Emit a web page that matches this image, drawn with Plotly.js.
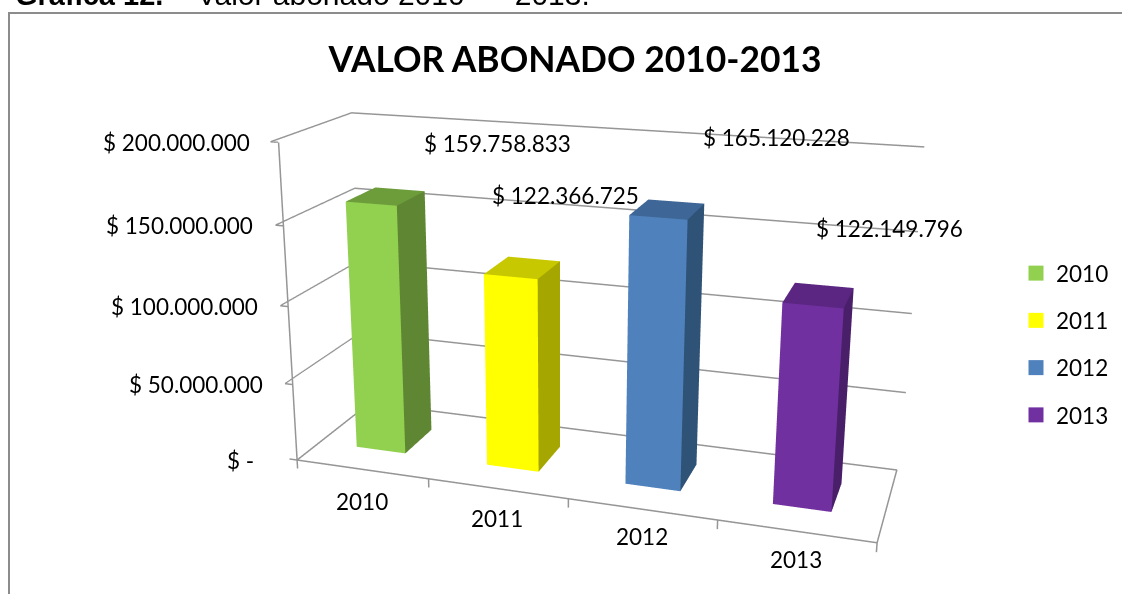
<!DOCTYPE html>
<html><head><meta charset="utf-8">
<script src="https://cdn.plot.ly/plotly-3.0.1.min.js"></script>
<style>html,body{margin:0;padding:0;background:#fff;overflow:hidden;width:1122px;height:594px}#c{position:absolute;left:-561px;top:-297px;width:2244px;height:1188px}</style></head>
<body><div id="c"></div>
<script>
const categories=['2010','2011','2012','2013'];
const values=[159758833,122366725,165120228,122149796];
const valueLabels=['$ 159.758.833','$ 122.366.725','$ 165.120.228','$ 122.149.796'];
const frontColors=['#92D050','#FFFF00','#4F81BD','#7030A0'];
const sideColors=['#5F8733','#A6A600','#2F5277','#4A1F6A'];
const topColors=['#6D9C3B','#C8C800','#3E6696','#5A2682'];
const valueTicks=[0,50000000,100000000,150000000,200000000];
const valueTickText=['$ -','$ 50.000.000','$ 100.000.000','$ 150.000.000','$ 200.000.000'];
const labelShiftX=[109,40,106,68], labelShiftY=[53,72,72,67];
const tickLabelShift=[-41,-28,-28,-28,-27];
const catShiftY=[-32,-30,-27,-28];
const halfWidth=0.19, halfDepth=0.2, barOffset=-0.02, xMin=-0.5, xMax=3.5, yMin=-0.5, yMax=0.5, zMax=200000000;
const FONT='Lato', GRID='#969696', TXT=22.5;
const px=x=>(x+561)/2244, py=y=>1-(y+297)/1188;
function box(i){
  const x0=i+barOffset-halfWidth,x1=i+barOffset+halfWidth,y0=-halfDepth,y1=halfDepth,z1=values[i];
  return {type:'mesh3d',name:categories[i],
    x:[x0,x1,x1,x0,x0,x1,x1,x0],y:[y0,y0,y1,y1,y0,y0,y1,y1],z:[0,0,0,0,z1,z1,z1,z1],
    i:[0,0,1,1,4,4],j:[1,5,2,6,5,6],k:[5,4,6,5,6,7],
    facecolor:[frontColors[i],frontColors[i],sideColors[i],sideColors[i],topColors[i],topColors[i]],
    flatshading:true,lighting:{ambient:1,diffuse:0,specular:0,roughness:1,fresnel:0},
    hoverinfo:'skip',showscale:false,showlegend:false};
}
function line(x,y,z){return {type:'scatter3d',mode:'lines',x:x,y:y,z:z,line:{color:GRID,width:3},hoverinfo:'skip',showlegend:false};}
const traces=categories.map((c,i)=>box(i));
traces.push(line([xMin,xMax,xMax,xMin,xMin],[yMin,yMin,yMax,yMax,yMin],[0,0,0,0,0]));
traces.push(line([xMin,xMin],[yMin,yMin],[0,zMax]));
[-0.5,0.5,1.5,2.5,3.5].forEach(v=>traces.push(line([v,v],[yMin,yMin],[0,-5700000])));
valueTicks.forEach(v=>traces.push(line([xMin,xMin-0.06],[yMin,yMin],[v,v])));
categories.forEach((c,i)=>traces.push({type:'scatter',x:[null],y:[null],name:c,mode:'markers',legendgroup:c,
  marker:{symbol:'square',size:15,color:frontColors[i]},showlegend:true,xaxis:'x',yaxis:'y'}));
const annotations=categories.map((c,i)=>({x:i,y:0,z:values[i],text:valueLabels[i],showarrow:false,xshift:labelShiftX[i],yshift:labelShiftY[i],font:{size:TXT,family:FONT,color:'#000'}}));
valueTicks.forEach((v,i)=>annotations.push({x:xMin,y:yMin,z:v,text:valueTickText[i],showarrow:false,xanchor:'right',xshift:tickLabelShift[i],font:{size:TXT,family:FONT,color:'#000'}}));
categories.forEach((c,i)=>annotations.push({x:i,y:yMin,z:0,text:c,showarrow:false,yshift:catShiftY[i],font:{size:TXT,family:FONT,color:'#000'}}));
const r=4.48, th=18.5*Math.PI/180, ph=17*Math.PI/180;
const cen={x:-0.096,y:-0.032,z:0.057};
const layout={width:2244,height:1188,margin:{l:0,r:0,t:0,b:0},paper_bgcolor:'#fff',
 font:{family:FONT,color:'#000',size:TXT},showlegend:true,
 title:{text:'<b>VALOR ABONADO 2010-2013</b>',x:px(575),xanchor:'center',y:py(60),yanchor:'middle',font:{size:35.4,family:FONT}},
 xaxis:{visible:false,domain:[0,0.01]},yaxis:{visible:false,domain:[0,0.01]},
 legend:{x:px(1016),y:py(252),xanchor:'left',yanchor:'top',font:{size:TXT,family:FONT},tracegroupgap:15,itemwidth:30,bgcolor:'rgba(0,0,0,0)'},
 shapes:[{type:'rect',xref:'paper',yref:'paper',x0:px(9),x1:px(1135),y0:py(610),y1:py(13),line:{color:'#8C8C8C',width:2}}],
 annotations:[{xref:'paper',yref:'paper',x:px(13),y:py(13),xanchor:'left',yanchor:'bottom',showarrow:false,align:'left',
   text:'<span style="font-size:29px"><b>Gráfica 12.</b></span>\u00A0\u00A0\u00A0\u00A0Valor abonado 2010 –\u00A0\u00A0 2013.',font:{family:'Liberation Sans',size:30,color:'#000'}}],
 scene:{domain:{x:[0,1],y:[0,1]},aspectmode:'manual',aspectratio:{x:1.9,y:0.55,z:1.08},
  camera:{eye:{x:cen.x+r*Math.sin(th)*Math.cos(ph),y:cen.y-r*Math.cos(th)*Math.cos(ph),z:cen.z+r*Math.sin(ph)},center:cen,up:{x:0,y:0,z:1},projection:{type:'perspective'}},
  xaxis:{title:{text:''},range:[xMin-0.06,xMax+0.02],showticklabels:false,ticks:'',showgrid:false,showbackground:false,zeroline:false,showspikes:false,showline:false},
  yaxis:{title:{text:''},range:[yMin,yMax+0.02],showticklabels:false,ticks:'',showgrid:false,showbackground:false,zeroline:false,showspikes:false,showline:false},
  zaxis:{title:{text:''},range:[-6000000,zMax],tickvals:valueTicks.slice(1),showticklabels:false,ticks:'',gridcolor:GRID,gridwidth:3,showbackground:false,zeroline:false,showspikes:false,showline:false},
  annotations:annotations
 }};
Plotly.newPlot('c',traces,layout,{displayModeBar:false});
</script></body></html>
